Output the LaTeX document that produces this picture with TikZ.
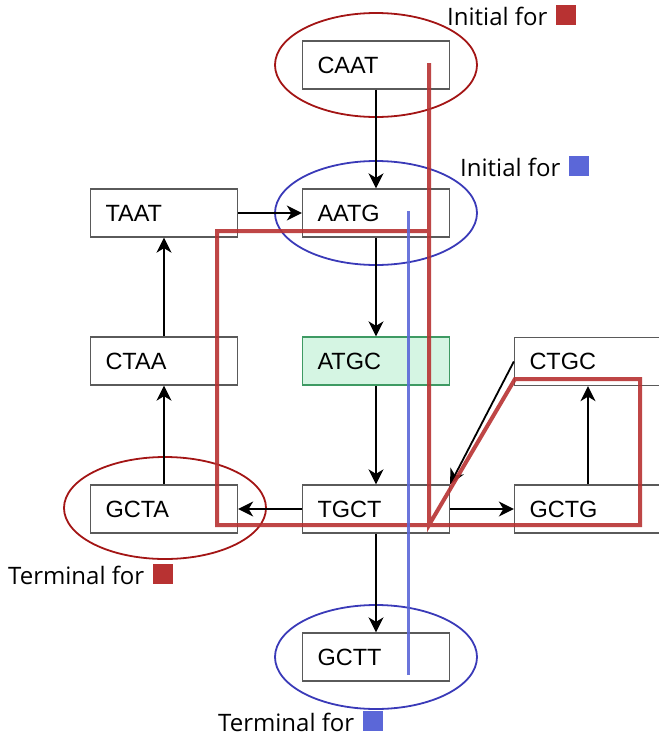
\documentclass[tikz,border=0pt]{standalone}
\usepackage{fontspec}
\setmainfont{Liberation Sans}
\newfontfamily\labelfont{Open Sans}
\usetikzlibrary{arrows.meta}
\definecolor{boxgray}{HTML}{5A5A5A}
\definecolor{pathred}{HTML}{B83232}
\definecolor{pathblue}{HTML}{5B67D8}
\definecolor{ellred}{HTML}{A31515}
\definecolor{ellblue}{HTML}{3A3AB8}
\definecolor{greenfill}{HTML}{D5F5E3}
\definecolor{greenline}{HTML}{3E9A63}
\tikzset{
  kmer/.style={draw=boxgray, line width=1.3pt, fill=white, minimum height=48pt,
    text width=117pt, inner xsep=15pt, inner ysep=0pt, align=left,
    font=\fontsize{23.5}{27}\selectfont},
  startk/.style={kmer, draw=greenline, fill=greenfill},
  flow/.style={-{Stealth[length=15pt,width=15pt,inset=4.5pt]}, line width=1.8pt, black},
  ellr/.style={draw=ellred, line width=1.8pt},
  ellb/.style={draw=ellblue, line width=1.8pt},
  tag/.style={anchor=base west, inner sep=0pt, font=\labelfont\fontsize{24}{28}\selectfont},
  redpath/.style={draw=pathred, line width=4pt, opacity=0.9, line join=miter},
  bluepath/.style={draw=pathblue, line width=3pt, opacity=0.9}
}
\begin{document}
\begin{tikzpicture}[x=1pt,y=-1pt]
\useasboundingbox (0,0) rectangle (659,737);
% boxes
\node[kmer] (CAAT) at (376,65) {CAAT};
\node[kmer] (TAAT) at (164,213) {TAAT};
\node[kmer] (AATG) at (376,213) {AATG};
\node[kmer] (CTAA) at (164,361) {CTAA};
\node[startk] (ATGC) at (376,361) {ATGC};
\node[kmer] (CTGC) at (588,361.5) {CTGC};
\node[kmer] (GCTA) at (164,509) {GCTA};
\node[kmer] (TGCT) at (376,509) {TGCT};
\node[kmer] (GCTG) at (588,509) {GCTG};
\node[kmer] (GCTT) at (376,657) {GCTT};
% ellipses
\draw[ellr] (376,65) ellipse [x radius=101pt, y radius=52pt];
\draw[ellb] (376,213) ellipse [x radius=101pt, y radius=52pt];
\draw[ellr] (165,508) ellipse [x radius=101pt, y radius=51pt];
\draw[ellb] (376,657) ellipse [x radius=101pt, y radius=52pt];
% arrows
\draw[flow] (CAAT) -- (AATG);
\draw[flow] (TAAT) -- (AATG);
\draw[flow] (AATG) -- (ATGC);
\draw[flow] (CTAA) -- (TAAT);
\draw[flow] (GCTA) -- (CTAA);
\draw[flow] (ATGC) -- (TGCT);
\draw[flow] (TGCT) -- (GCTA);
\draw[flow] (TGCT) -- (GCTG);
\draw[flow] (TGCT) -- (GCTT);
\draw[flow] (GCTG.north) -- (GCTG.north |- CTGC.south);
\draw[flow] (CTGC.west) -- (TGCT.north east);
% paths
\draw[redpath] (429,63) -- (429,231) -- (217,231) -- (217,525) -- (640,525)
  -- (640,379) -- (515,379) -- (429,525) -- cycle;
\draw[bluepath] (408,211) -- (408,675);
% labels
\node[tag] (ir) at (447,25) {Initial for\hspace{9pt}\textcolor{pathred}{\rule{20pt}{20pt}}};
\node[tag] (ib) at (460,176) {Initial for\hspace{9pt}\textcolor{pathblue}{\rule{20pt}{20pt}}};
\node[tag] (tr) at (8,584) {Terminal for\hspace{9pt}\textcolor{pathred}{\rule{20pt}{20pt}}};
\node[tag] (tb) at (218,731) {Terminal for\hspace{9pt}\textcolor{pathblue}{\rule{20pt}{20pt}}};
\end{tikzpicture}
\end{document}
